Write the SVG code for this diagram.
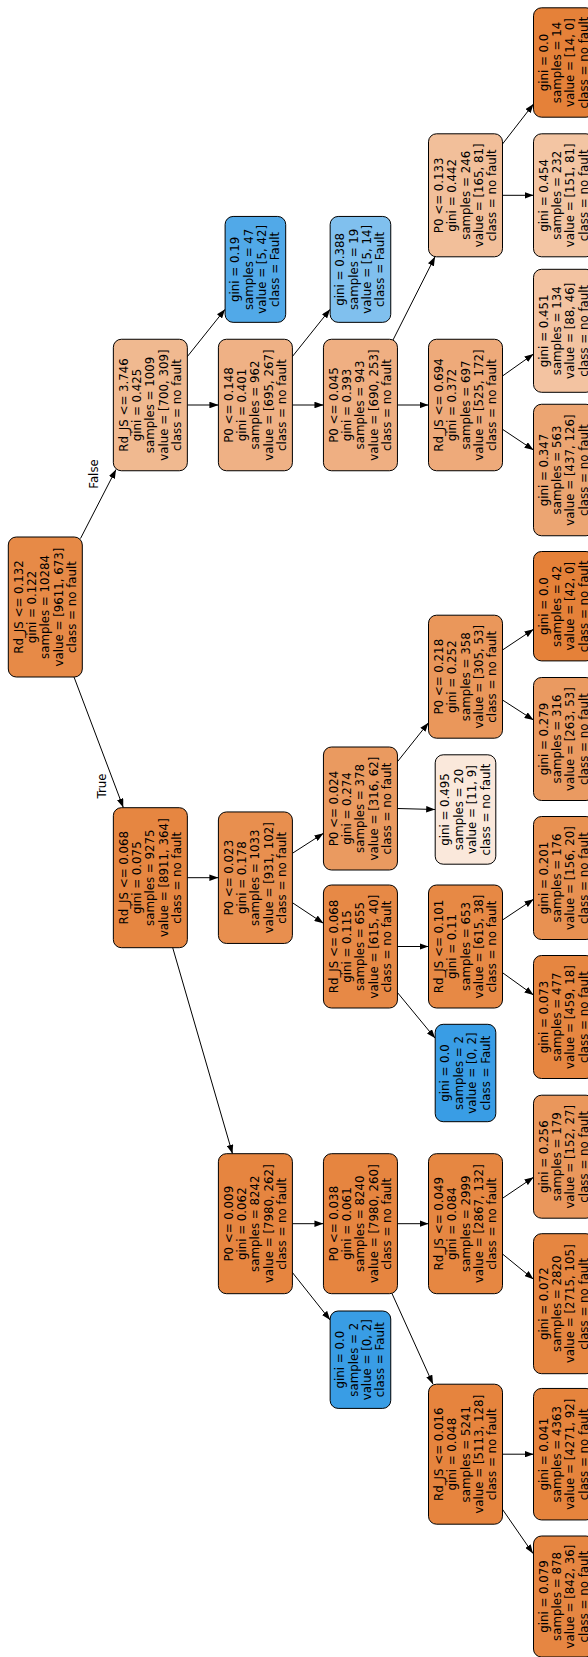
<svg xmlns="http://www.w3.org/2000/svg" width="588" height="1657" viewBox="0 0 588 1657">
<style>
.n rect{stroke:#000;stroke-width:1}
text{font-family:"DejaVu Sans","Liberation Sans",sans-serif;font-size:11.8px;fill:#000;text-anchor:middle;dominant-baseline:central}
.e line{stroke:#000;stroke-width:1;marker-end:url(#ah)}
</style>
<defs>
<marker id="ah" viewBox="0 0 9 6.6" refX="9" refY="3.3" markerWidth="9" markerHeight="6.6" markerUnits="userSpaceOnUse" orient="auto"><path d="M0,0L9,3.3L0,6.6z" fill="#000"/></marker>
</defs>
<rect x="0" y="0" width="588" height="1657" fill="#fff"/>
<g id="edges" class="e">
<line x1="80.5" y1="538.5" x2="116" y2="469.5"/>
<line x1="74" y1="677" x2="123.3" y2="807.5"/>
<line x1="187.35" y1="877.7" x2="218.4" y2="877.7"/>
<line x1="172.5" y1="947" x2="232.5" y2="1153.7"/>
<line x1="292.4" y1="853.3" x2="323.45" y2="833.3"/>
<line x1="292.4" y1="902.7" x2="323.45" y2="923.3"/>
<line x1="397.45" y1="761.7" x2="428.5" y2="722.7"/>
<line x1="397.45" y1="808.5" x2="435.2" y2="809.5"/>
<line x1="502.5" y1="650" x2="533.5" y2="629.3"/>
<line x1="502.5" y1="700" x2="533.5" y2="720"/>
<line x1="397.45" y1="946.5" x2="428.5" y2="946.5"/>
<line x1="396.75" y1="991.7" x2="435.2" y2="1038.3"/>
<line x1="502.5" y1="920" x2="533.5" y2="899.3"/>
<line x1="502.5" y1="972.7" x2="533.5" y2="995"/>
<line x1="292.4" y1="1223.7" x2="323.45" y2="1223.7"/>
<line x1="291.75" y1="1271.7" x2="330.15" y2="1320"/>
<line x1="397.45" y1="1223.7" x2="428.5" y2="1223.7"/>
<line x1="391.9" y1="1293.3" x2="433" y2="1384.2"/>
<line x1="502.5" y1="1198.3" x2="533.5" y2="1177.3"/>
<line x1="502.5" y1="1254" x2="533.5" y2="1279.3"/>
<line x1="502.5" y1="1454.2" x2="533.5" y2="1454.2"/>
<line x1="501.75" y1="1508.3" x2="533" y2="1553.5"/>
<line x1="186.75" y1="357.3" x2="225.1" y2="309.3"/>
<line x1="187.35" y1="405" x2="218.4" y2="405"/>
<line x1="291.75" y1="357.3" x2="330.15" y2="309.3"/>
<line x1="292.4" y1="405" x2="323.45" y2="405"/>
<line x1="393" y1="340" x2="435" y2="256.8"/>
<line x1="397.45" y1="405" x2="428.5" y2="405"/>
<line x1="502.5" y1="376" x2="533.5" y2="354"/>
<line x1="502.5" y1="429.3" x2="533.5" y2="450"/>
<line x1="502.5" y1="144" x2="533.5" y2="104"/>
<line x1="502.5" y1="195.3" x2="533.5" y2="195.3"/>
<text transform="translate(94,474) rotate(-90)">False</text>
<text transform="translate(101.5,786) rotate(-90)">True</text>
</g>
<g id="n0" class="n"><rect x="8.3" y="537" width="74" height="140" rx="8" fill="#e78a47"/><text transform="translate(45.3,607) rotate(-90)"><tspan x="0" y="-26.7">Rd_JS &lt;= 0.132</tspan><tspan x="0" y="-13.35">gini = 0.122</tspan><tspan x="0" y="0">samples = 10284</tspan><tspan x="0" y="13.35">value = [9611, 673]</tspan><tspan x="0" y="26.7">class = no fault</tspan></text></g>
<g id="n1" class="n"><rect x="113.35" y="807.7" width="74" height="140" rx="8" fill="#e68641"/><text transform="translate(150.35,877.7) rotate(-90)"><tspan x="0" y="-26.7">Rd_JS &lt;= 0.068</tspan><tspan x="0" y="-13.35">gini = 0.075</tspan><tspan x="0" y="0">samples = 9275</tspan><tspan x="0" y="13.35">value = [8911, 364]</tspan><tspan x="0" y="26.7">class = no fault</tspan></text></g>
<g id="n2" class="n"><rect x="218.4" y="811.95" width="74" height="131.5" rx="8" fill="#e88f4f"/><text transform="translate(255.4,877.7) rotate(-90)"><tspan x="0" y="-26.7">P0 &lt;= 0.023</tspan><tspan x="0" y="-13.35">gini = 0.178</tspan><tspan x="0" y="0">samples = 1033</tspan><tspan x="0" y="13.35">value = [931, 102]</tspan><tspan x="0" y="26.7">class = no fault</tspan></text></g>
<g id="n3" class="n"><rect x="323.45" y="747" width="74" height="123" rx="8" fill="#ea9a60"/><text transform="translate(360.45,808.5) rotate(-90)"><tspan x="0" y="-26.7">P0 &lt;= 0.024</tspan><tspan x="0" y="-13.35">gini = 0.274</tspan><tspan x="0" y="0">samples = 378</tspan><tspan x="0" y="13.35">value = [316, 62]</tspan><tspan x="0" y="26.7">class = no fault</tspan></text></g>
<g id="n4" class="n"><rect x="428.5" y="615.2" width="74" height="123" rx="8" fill="#ea975b"/><text transform="translate(465.5,676.7) rotate(-90)"><tspan x="0" y="-26.7">P0 &lt;= 0.218</tspan><tspan x="0" y="-13.35">gini = 0.252</tspan><tspan x="0" y="0">samples = 358</tspan><tspan x="0" y="13.35">value = [305, 53]</tspan><tspan x="0" y="26.7">class = no fault</tspan></text></g>
<g id="n5" class="n"><rect x="533.5" y="551.5" width="60.6" height="109.4" rx="8" fill="#e58139"/><text transform="translate(563.8,606.2) rotate(-90)"><tspan x="0" y="-20.03">gini = 0.0</tspan><tspan x="0" y="-6.68">samples = 42</tspan><tspan x="0" y="6.68">value = [42, 0]</tspan><tspan x="0" y="20.03">class = no fault</tspan></text></g>
<g id="n6" class="n"><rect x="533.5" y="677.5" width="60.6" height="123" rx="8" fill="#ea9a61"/><text transform="translate(563.8,739) rotate(-90)"><tspan x="0" y="-20.03">gini = 0.279</tspan><tspan x="0" y="-6.68">samples = 316</tspan><tspan x="0" y="6.68">value = [263, 53]</tspan><tspan x="0" y="20.03">class = no fault</tspan></text></g>
<g id="n7" class="n"><rect x="435.2" y="754.8" width="60.6" height="109.4" rx="8" fill="#fae8db"/><text transform="translate(465.5,809.5) rotate(-90)"><tspan x="0" y="-20.03">gini = 0.495</tspan><tspan x="0" y="-6.68">samples = 20</tspan><tspan x="0" y="6.68">value = [11, 9]</tspan><tspan x="0" y="20.03">class = no fault</tspan></text></g>
<g id="n8" class="n"><rect x="323.45" y="885" width="74" height="123" rx="8" fill="#e78946"/><text transform="translate(360.45,946.5) rotate(-90)"><tspan x="0" y="-26.7">Rd_JS &lt;= 0.068</tspan><tspan x="0" y="-13.35">gini = 0.115</tspan><tspan x="0" y="0">samples = 655</tspan><tspan x="0" y="13.35">value = [615, 40]</tspan><tspan x="0" y="26.7">class = no fault</tspan></text></g>
<g id="n9" class="n"><rect x="428.5" y="885" width="74" height="123" rx="8" fill="#e78945"/><text transform="translate(465.5,946.5) rotate(-90)"><tspan x="0" y="-26.7">Rd_JS &lt;= 0.101</tspan><tspan x="0" y="-13.35">gini = 0.11</tspan><tspan x="0" y="0">samples = 653</tspan><tspan x="0" y="13.35">value = [615, 38]</tspan><tspan x="0" y="26.7">class = no fault</tspan></text></g>
<g id="n10" class="n"><rect x="533.5" y="816.5" width="60.6" height="123" rx="8" fill="#e89152"/><text transform="translate(563.8,878) rotate(-90)"><tspan x="0" y="-20.03">gini = 0.201</tspan><tspan x="0" y="-6.68">samples = 176</tspan><tspan x="0" y="6.68">value = [156, 20]</tspan><tspan x="0" y="20.03">class = no fault</tspan></text></g>
<g id="n11" class="n"><rect x="533.5" y="955.5" width="60.6" height="123" rx="8" fill="#e68641"/><text transform="translate(563.8,1017) rotate(-90)"><tspan x="0" y="-20.03">gini = 0.073</tspan><tspan x="0" y="-6.68">samples = 477</tspan><tspan x="0" y="6.68">value = [459, 18]</tspan><tspan x="0" y="20.03">class = no fault</tspan></text></g>
<g id="n12" class="n"><rect x="435.2" y="1024.3" width="60.6" height="97.4" rx="8" fill="#399de5"/><text transform="translate(465.5,1073) rotate(-90)"><tspan x="0" y="-20.03">gini = 0.0</tspan><tspan x="0" y="-6.68">samples = 2</tspan><tspan x="0" y="6.68">value = [0, 2]</tspan><tspan x="0" y="20.03">class = Fault</tspan></text></g>
<g id="n13" class="n"><rect x="218.4" y="1153.7" width="74" height="140" rx="8" fill="#e68540"/><text transform="translate(255.4,1223.7) rotate(-90)"><tspan x="0" y="-26.7">P0 &lt;= 0.009</tspan><tspan x="0" y="-13.35">gini = 0.062</tspan><tspan x="0" y="0">samples = 8242</tspan><tspan x="0" y="13.35">value = [7980, 262]</tspan><tspan x="0" y="26.7">class = no fault</tspan></text></g>
<g id="n14" class="n"><rect x="323.45" y="1153.7" width="74" height="140" rx="8" fill="#e68540"/><text transform="translate(360.45,1223.7) rotate(-90)"><tspan x="0" y="-26.7">P0 &lt;= 0.038</tspan><tspan x="0" y="-13.35">gini = 0.061</tspan><tspan x="0" y="0">samples = 8240</tspan><tspan x="0" y="13.35">value = [7980, 260]</tspan><tspan x="0" y="26.7">class = no fault</tspan></text></g>
<g id="n15" class="n"><rect x="428.5" y="1153.7" width="74" height="140" rx="8" fill="#e68742"/><text transform="translate(465.5,1223.7) rotate(-90)"><tspan x="0" y="-26.7">Rd_JS &lt;= 0.049</tspan><tspan x="0" y="-13.35">gini = 0.084</tspan><tspan x="0" y="0">samples = 2999</tspan><tspan x="0" y="13.35">value = [2867, 132]</tspan><tspan x="0" y="26.7">class = no fault</tspan></text></g>
<g id="n16" class="n"><rect x="533.5" y="1095.2" width="60.6" height="123" rx="8" fill="#ea975c"/><text transform="translate(563.8,1156.7) rotate(-90)"><tspan x="0" y="-20.03">gini = 0.256</tspan><tspan x="0" y="-6.68">samples = 179</tspan><tspan x="0" y="6.68">value = [152, 27]</tspan><tspan x="0" y="20.03">class = no fault</tspan></text></g>
<g id="n17" class="n"><rect x="533.5" y="1233.7" width="60.6" height="140" rx="8" fill="#e68641"/><text transform="translate(563.8,1303.7) rotate(-90)"><tspan x="0" y="-20.03">gini = 0.072</tspan><tspan x="0" y="-6.68">samples = 2820</tspan><tspan x="0" y="6.68">value = [2715, 105]</tspan><tspan x="0" y="20.03">class = no fault</tspan></text></g>
<g id="n18" class="n"><rect x="428.5" y="1384.2" width="74" height="140" rx="8" fill="#e6843e"/><text transform="translate(465.5,1454.2) rotate(-90)"><tspan x="0" y="-26.7">Rd_JS &lt;= 0.016</tspan><tspan x="0" y="-13.35">gini = 0.048</tspan><tspan x="0" y="0">samples = 5241</tspan><tspan x="0" y="13.35">value = [5113, 128]</tspan><tspan x="0" y="26.7">class = no fault</tspan></text></g>
<g id="n19" class="n"><rect x="533.5" y="1388.45" width="60.6" height="131.5" rx="8" fill="#e6843d"/><text transform="translate(563.8,1454.2) rotate(-90)"><tspan x="0" y="-20.03">gini = 0.041</tspan><tspan x="0" y="-6.68">samples = 4363</tspan><tspan x="0" y="6.68">value = [4271, 92]</tspan><tspan x="0" y="20.03">class = no fault</tspan></text></g>
<g id="n20" class="n"><rect x="533.5" y="1536" width="60.6" height="121" rx="8" fill="#e68642"/><text transform="translate(563.8,1596.5) rotate(-90)"><tspan x="0" y="-20.03">gini = 0.079</tspan><tspan x="0" y="-6.68">samples = 878</tspan><tspan x="0" y="6.68">value = [842, 36]</tspan><tspan x="0" y="20.03">class = no fault</tspan></text></g>
<g id="n21" class="n"><rect x="330.15" y="1311" width="60.6" height="97.4" rx="8" fill="#399de5"/><text transform="translate(360.45,1359.7) rotate(-90)"><tspan x="0" y="-20.03">gini = 0.0</tspan><tspan x="0" y="-6.68">samples = 2</tspan><tspan x="0" y="6.68">value = [0, 2]</tspan><tspan x="0" y="20.03">class = Fault</tspan></text></g>
<g id="n22" class="n"><rect x="113.35" y="339.25" width="74" height="131.5" rx="8" fill="#f0b990"/><text transform="translate(150.35,405) rotate(-90)"><tspan x="0" y="-26.7">Rd_JS &lt;= 3.746</tspan><tspan x="0" y="-13.35">gini = 0.425</tspan><tspan x="0" y="0">samples = 1009</tspan><tspan x="0" y="13.35">value = [700, 309]</tspan><tspan x="0" y="26.7">class = no fault</tspan></text></g>
<g id="n23" class="n"><rect x="218.4" y="339.25" width="74" height="131.5" rx="8" fill="#efb185"/><text transform="translate(255.4,405) rotate(-90)"><tspan x="0" y="-26.7">P0 &lt;= 0.148</tspan><tspan x="0" y="-13.35">gini = 0.401</tspan><tspan x="0" y="0">samples = 962</tspan><tspan x="0" y="13.35">value = [695, 267]</tspan><tspan x="0" y="26.7">class = no fault</tspan></text></g>
<g id="n24" class="n"><rect x="323.45" y="339.25" width="74" height="131.5" rx="8" fill="#efaf82"/><text transform="translate(360.45,405) rotate(-90)"><tspan x="0" y="-26.7">P0 &lt;= 0.045</tspan><tspan x="0" y="-13.35">gini = 0.393</tspan><tspan x="0" y="0">samples = 943</tspan><tspan x="0" y="13.35">value = [690, 253]</tspan><tspan x="0" y="26.7">class = no fault</tspan></text></g>
<g id="n25" class="n"><rect x="428.5" y="339.25" width="74" height="131.5" rx="8" fill="#eeaa7a"/><text transform="translate(465.5,405) rotate(-90)"><tspan x="0" y="-26.7">Rd_JS &lt;= 0.694</tspan><tspan x="0" y="-13.35">gini = 0.372</tspan><tspan x="0" y="0">samples = 697</tspan><tspan x="0" y="13.35">value = [525, 172]</tspan><tspan x="0" y="26.7">class = no fault</tspan></text></g>
<g id="n26" class="n"><rect x="533.5" y="404.25" width="60.6" height="131.5" rx="8" fill="#eca572"/><text transform="translate(563.8,470) rotate(-90)"><tspan x="0" y="-20.03">gini = 0.347</tspan><tspan x="0" y="-6.68">samples = 563</tspan><tspan x="0" y="6.68">value = [437, 126]</tspan><tspan x="0" y="20.03">class = no fault</tspan></text></g>
<g id="n27" class="n"><rect x="533.5" y="269.3" width="60.6" height="123" rx="8" fill="#f3c3a1"/><text transform="translate(563.8,330.8) rotate(-90)"><tspan x="0" y="-20.03">gini = 0.451</tspan><tspan x="0" y="-6.68">samples = 134</tspan><tspan x="0" y="6.68">value = [88, 46]</tspan><tspan x="0" y="20.03">class = no fault</tspan></text></g>
<g id="n28" class="n"><rect x="428.5" y="133.8" width="74" height="123" rx="8" fill="#f2bf9a"/><text transform="translate(465.5,195.3) rotate(-90)"><tspan x="0" y="-26.7">P0 &lt;= 0.133</tspan><tspan x="0" y="-13.35">gini = 0.442</tspan><tspan x="0" y="0">samples = 246</tspan><tspan x="0" y="13.35">value = [165, 81]</tspan><tspan x="0" y="26.7">class = no fault</tspan></text></g>
<g id="n29" class="n"><rect x="533.5" y="133.8" width="60.6" height="123" rx="8" fill="#f3c5a3"/><text transform="translate(563.8,195.3) rotate(-90)"><tspan x="0" y="-20.03">gini = 0.454</tspan><tspan x="0" y="-6.68">samples = 232</tspan><tspan x="0" y="6.68">value = [151, 81]</tspan><tspan x="0" y="20.03">class = no fault</tspan></text></g>
<g id="n30" class="n"><rect x="533.5" y="7.8" width="60.6" height="109.4" rx="8" fill="#e58139"/><text transform="translate(563.8,62.5) rotate(-90)"><tspan x="0" y="-20.03">gini = 0.0</tspan><tspan x="0" y="-6.68">samples = 14</tspan><tspan x="0" y="6.68">value = [14, 0]</tspan><tspan x="0" y="20.03">class = no fault</tspan></text></g>
<g id="n31" class="n"><rect x="330.15" y="216.45" width="60.6" height="105.9" rx="8" fill="#80c0ee"/><text transform="translate(360.45,269.4) rotate(-90)"><tspan x="0" y="-20.03">gini = 0.388</tspan><tspan x="0" y="-6.68">samples = 19</tspan><tspan x="0" y="6.68">value = [5, 14]</tspan><tspan x="0" y="20.03">class = Fault</tspan></text></g>
<g id="n32" class="n"><rect x="225.1" y="216.45" width="60.6" height="105.9" rx="8" fill="#51a9e8"/><text transform="translate(255.4,269.4) rotate(-90)"><tspan x="0" y="-20.03">gini = 0.19</tspan><tspan x="0" y="-6.68">samples = 47</tspan><tspan x="0" y="6.68">value = [5, 42]</tspan><tspan x="0" y="20.03">class = Fault</tspan></text></g>
</svg>
